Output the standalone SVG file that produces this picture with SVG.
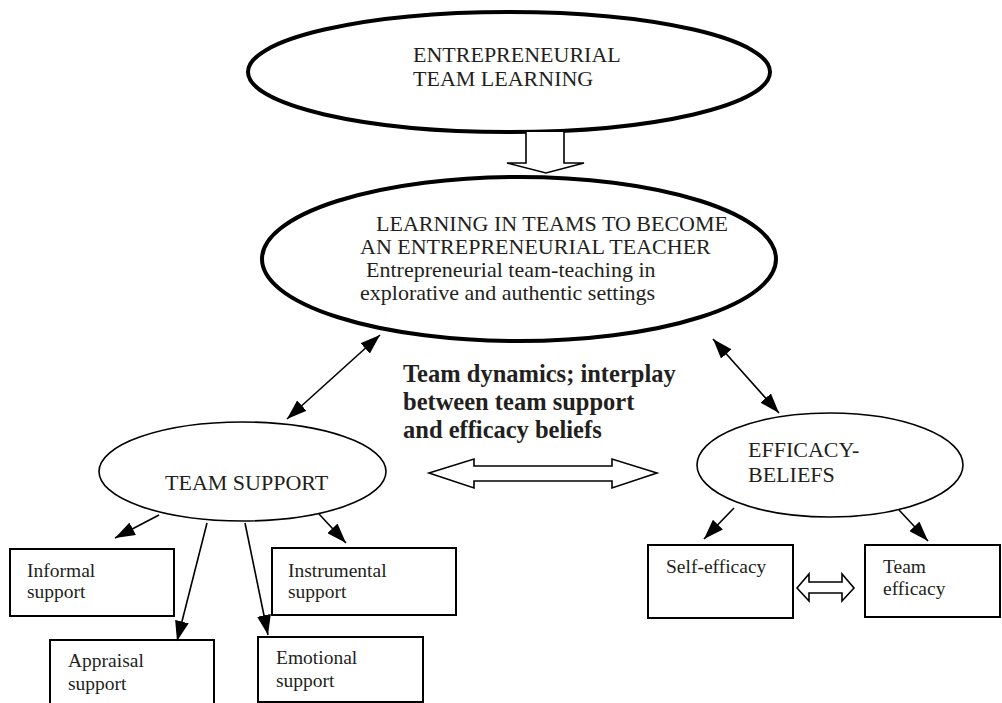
<svg xmlns="http://www.w3.org/2000/svg" width="1002" height="703" viewBox="0 0 1002 703">
  <style>
    .bg { fill: #ffffff; }
    .thick { fill: #ffffff; stroke: #000000; stroke-width: 4; }
    .thin { fill: #ffffff; stroke: #000000; stroke-width: 1.6; }
    .box { fill: #ffffff; stroke: #000000; stroke-width: 2; }
    .block { fill: #ffffff; stroke: #000000; stroke-width: 1.6; stroke-linejoin: miter; }
    .link { fill: none; stroke: #000000; stroke-width: 1.6; }
    .t { font-family: "Liberation Serif", "Times New Roman", serif; fill: #231f20; }
    .big { font-size: 22px; }
    .small { font-size: 19.5px; }
    .bold { font-size: 24.5px; font-weight: bold; }
  </style>
  <defs>
    <marker id="head" markerUnits="userSpaceOnUse" viewBox="0 0 20 14" refX="20" refY="7" markerWidth="20" markerHeight="14" orient="auto-start-reverse">
      <path d="M0,0 L20,7 L0,14 Z" fill="#000000"/>
    </marker>
  </defs>

  <rect class="bg" x="0" y="0" width="1002" height="703"/>

  <!-- top concept -->
  <g id="entrepreneurial-team-learning">
    <ellipse class="thick" cx="509" cy="72" rx="261" ry="60"/>
    <text class="t big" x="413" y="62">ENTREPRENEURIAL</text>
    <text class="t big" x="413" y="86">TEAM LEARNING</text>
  </g>

  <!-- central concept -->
  <g id="learning-in-teams">
    <ellipse class="thick" cx="519" cy="259" rx="257" ry="82"/>
    <text class="t big" x="376" y="231">LEARNING IN TEAMS TO BECOME</text>
    <text class="t big" x="360" y="254">AN ENTREPRENEURIAL TEACHER</text>
    <text class="t big" x="366" y="277">Entrepreneurial team-teaching in</text>
    <text class="t big" x="360" y="300">explorative and authentic settings</text>
  </g>

  <g id="team-dynamics-label">
    <text class="t bold" x="403" y="382">Team dynamics; interplay</text>
    <text class="t bold" x="403" y="410">between team support</text>
    <text class="t bold" x="403" y="438">and efficacy beliefs</text>
  </g>

  <g id="team-support">
    <ellipse class="thin" cx="242.5" cy="471.5" rx="143.5" ry="49.5"/>
    <text class="t big" x="165" y="490">TEAM SUPPORT</text>
  </g>

  <g id="efficacy-beliefs">
    <ellipse class="thin" cx="830" cy="465" rx="133" ry="52"/>
    <text class="t big" x="748" y="457">EFFICACY-</text>
    <text class="t big" x="748" y="482">BELIEFS</text>
  </g>

  <g id="informal-support">
    <rect class="box" x="10" y="549" width="164" height="67"/>
    <text class="t small" x="27" y="577">Informal</text>
    <text class="t small" x="27" y="598">support</text>
  </g>

  <g id="instrumental-support">
    <rect class="box" x="272" y="548" width="184" height="67"/>
    <text class="t small" x="288" y="577">Instrumental</text>
    <text class="t small" x="288" y="598">support</text>
  </g>

  <g id="appraisal-support">
    <rect class="box" x="50" y="640" width="164" height="75"/>
    <text class="t small" x="68" y="667">Appraisal</text>
    <text class="t small" x="68" y="690">support</text>
  </g>

  <g id="emotional-support">
    <rect class="box" x="258" y="637" width="165" height="65"/>
    <text class="t small" x="276" y="664">Emotional</text>
    <text class="t small" x="276" y="687">support</text>
  </g>

  <g id="self-efficacy">
    <rect class="box" x="648" y="545" width="145" height="73"/>
    <text class="t small" x="666" y="573">Self-efficacy</text>
  </g>

  <g id="team-efficacy">
    <rect class="box" x="865" y="545" width="135" height="72"/>
    <text class="t small" x="883" y="573">Team</text>
    <text class="t small" x="883" y="595">efficacy</text>
  </g>

  <g id="connectors">
    <!-- block arrow: team learning feeds the central concept -->
    <path class="block" d="M526,132 L526,163 L507,163 L546,173 L584,163 L564,163 L564,132"/>
    <!-- two-way links between central concept and the two sub-concepts -->
    <line class="link" x1="380" y1="335" x2="287" y2="419" marker-start="url(#head)" marker-end="url(#head)"/>
    <line class="link" x1="713" y1="339" x2="779" y2="413" marker-start="url(#head)" marker-end="url(#head)"/>
    <!-- interplay between team support and efficacy beliefs -->
    <path class="block" d="M429,473 L474,459 L474,466 L612,466 L612,459 L657,473 L612,488 L612,481 L474,481 L474,488 Z"/>
    <!-- team support branches -->
    <line class="link" x1="159" y1="515" x2="115" y2="538" marker-end="url(#head)"/>
    <line class="link" x1="207" y1="523" x2="177" y2="641" marker-end="url(#head)"/>
    <line class="link" x1="245" y1="523" x2="268" y2="635" marker-end="url(#head)"/>
    <line class="link" x1="319" y1="514" x2="346" y2="543" marker-end="url(#head)"/>
    <!-- efficacy branches -->
    <line class="link" x1="734" y1="508" x2="704" y2="539" marker-end="url(#head)"/>
    <line class="link" x1="899" y1="510" x2="928" y2="541" marker-end="url(#head)"/>
    <!-- self-efficacy and team efficacy -->
    <path class="block" d="M797,588 L809,574 L809,582 L842,582 L842,574 L854,588 L842,601 L842,593 L809,593 L809,601 Z"/>
  </g>
</svg>
